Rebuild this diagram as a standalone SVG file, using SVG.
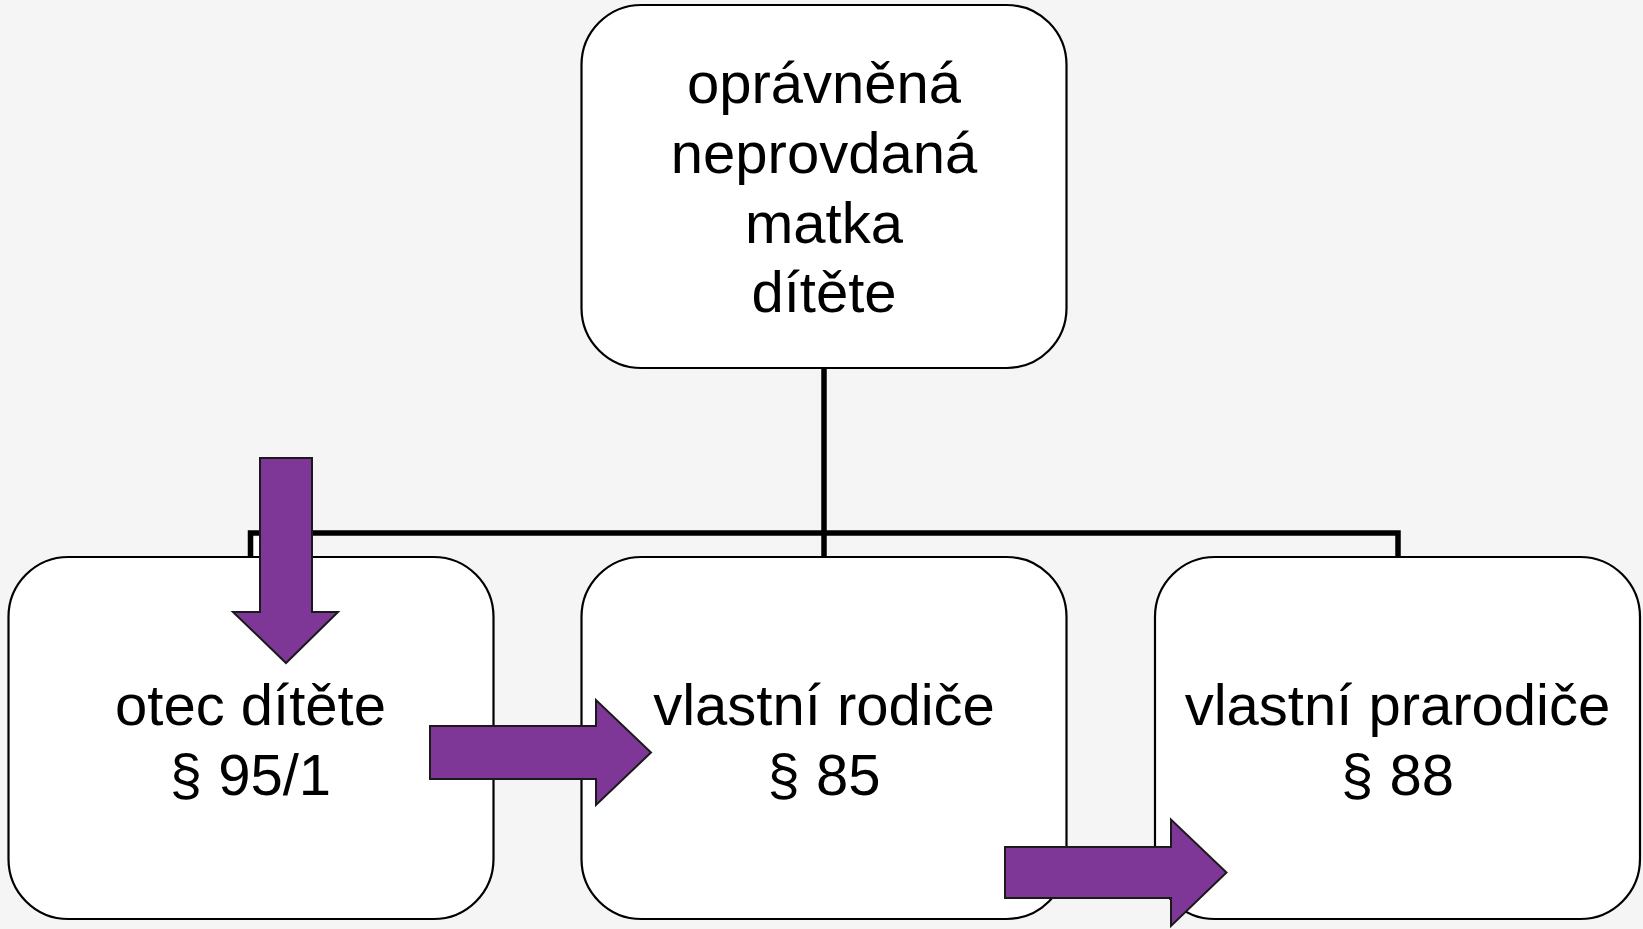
<svg xmlns="http://www.w3.org/2000/svg" width="1643" height="929" viewBox="0 0 1643 929">
<style>
.box{fill:#ffffff;stroke:#000000;stroke-width:2.2}
.lbl{font-family:"Liberation Sans",Arial,sans-serif;font-size:58px;fill:#000000;text-anchor:middle}
.conn{fill:none;stroke:#000000;stroke-width:5.5;stroke-linejoin:miter}
.arr{fill:#7e3797;stroke:#1a1a1a;stroke-width:2}
</style>
<rect x="0" y="0" width="1643" height="929" fill="#f5f5f5"/>
<g id="connectors">
<path class="conn" d="M824 368 V533 M250.5 557 V533 H1398 V557 M824 533 V557"/>
<rect x="254" y="537" width="6" height="19" fill="#ffffff"/>
</g>
<g id="node-matka">
<rect class="box" x="581.5" y="5" width="485" height="363" rx="60" ry="60"/>
<text class="lbl" x="824" y="103">oprávněná</text>
<text class="lbl" x="824" y="173">neprovdaná</text>
<text class="lbl" x="824" y="243">matka</text>
<text class="lbl" x="824" y="312">dítěte</text>
</g>
<g id="node-otec">
<rect class="box" x="8.5" y="557" width="485" height="362" rx="60" ry="60"/>
<text class="lbl" x="250.5" y="725">otec dítěte</text>
<text class="lbl" x="250.5" y="795">§ 95/1</text>
</g>
<g id="node-rodice">
<rect class="box" x="581.5" y="557" width="485" height="362" rx="60" ry="60"/>
<text class="lbl" x="824" y="725">vlastní rodiče</text>
<text class="lbl" x="824" y="795">§ 85</text>
</g>
<g id="node-prarodice">
<rect class="box" x="1155" y="557" width="485" height="362" rx="60" ry="60"/>
<text class="lbl" x="1397.5" y="725">vlastní prarodiče</text>
<text class="lbl" x="1397.5" y="795">§ 88</text>
</g>
<g id="arrows">
<polygon class="arr" points="260,458 312,458 312,612 338,612 286,663 233,612 260,612"/>
<polygon class="arr" points="430,726 596,726 596,700 651,752.5 596,805 596,779 430,779"/>
<polygon class="arr" points="1005,847 1171,847 1171,819.5 1226.5,872.5 1171,926 1171,898 1005,898"/>
</g>
</svg>
